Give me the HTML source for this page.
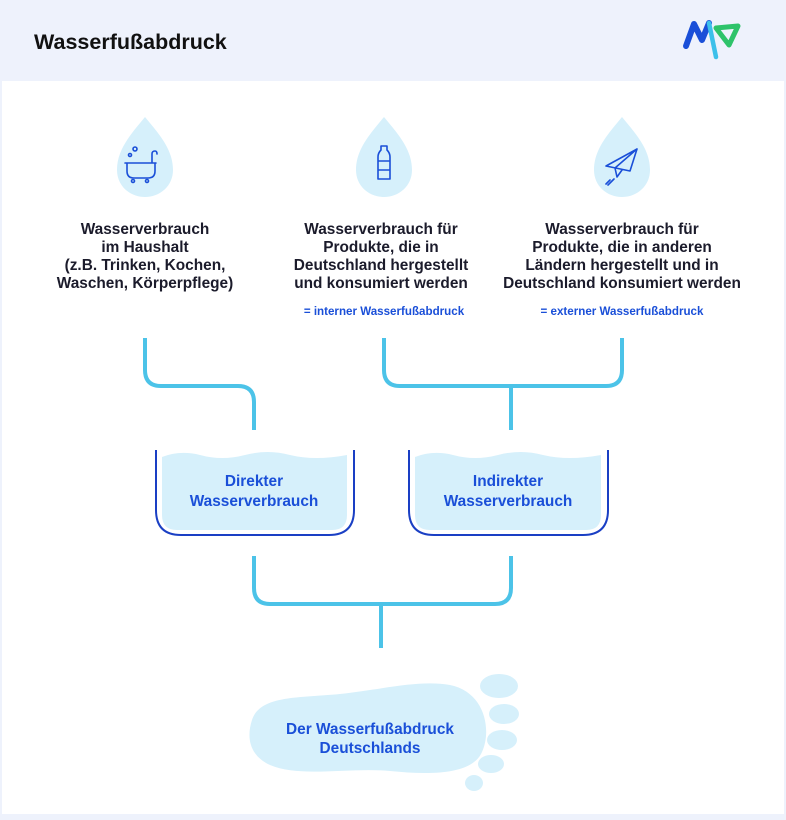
<!DOCTYPE html>
<html><head><meta charset="utf-8"><style>
body{margin:0;background:#fff}
svg{display:block;font-family:"Liberation Sans",sans-serif}
</style></head><body>
<svg width="786" height="820" viewBox="0 0 786 820" xmlns="http://www.w3.org/2000/svg">
<rect width="786" height="820" fill="#fff"/>
<rect width="786" height="81" fill="#eef2fc"/>
<rect x="0" y="814" width="786" height="6" fill="#eef2fc"/>
<rect x="0" y="81" width="2" height="740" fill="#eef2fc"/>
<rect x="784" y="81" width="2" height="740" fill="#eef2fc"/>
<text x="34" y="49" font-size="21.5" font-weight="bold" fill="#111">Wasserfußabdruck</text>
<path d="M686 46 L694 24 L702 40 L709 23" fill="none" stroke="#1a4fd8" stroke-width="6" stroke-linecap="round" stroke-linejoin="round"/>
<path d="M709 23 L716 57" fill="none" stroke="#3cc0ea" stroke-width="4.5" stroke-linecap="round"/>
<path d="M716 28 L738 26 L729 45 Z" fill="none" stroke="#2ec36a" stroke-width="5" stroke-linecap="round" stroke-linejoin="round"/>
<!-- drops -->
<g fill="#d6f0fb">
<path d="M145 117 C160 135 173 150 173 170 C173 186 160 197 145 197 C130 197 117 186 117 170 C117 150 130 135 145 117Z"/>
<path d="M384 117 C399 135 412 150 412 170 C412 186 399 197 384 197 C369 197 356 186 356 170 C356 150 369 135 384 117Z"/>
<path d="M622 117 C637 135 650 150 650 170 C650 186 637 197 622 197 C607 197 594 186 594 170 C594 150 607 135 622 117Z"/>
</g>
<g fill="none" stroke="#1a4fd8" stroke-width="1.6" stroke-linecap="round" stroke-linejoin="round">
<path d="M125 163 H156 M127 163 V171 Q127 178 134 178 H148 Q155 178 155 171 V163 M152 163 V154 Q152 151 155 151 Q157 151 157 154"/>
<circle cx="133" cy="181" r="1.5"/><circle cx="147" cy="181" r="1.5"/>
<circle cx="135" cy="149" r="2"/><circle cx="130" cy="155" r="1.5"/>
<path d="M381 146 H387 V150 Q390 153 390 157 V179 H378 V157 Q378 153 381 150 Z M378 161 H390 M378 170 H390"/>
<path d="M606 166 L637 149 L630 171 Z M637 149 L615 168 L617 177 L622 170 M610 180 L606 184 M614 179 L608 185"/>
</g>
<!-- text -->
<g font-size="15.4" font-weight="bold" fill="#1b1b2b" text-anchor="middle">
<text x="145" y="234">Wasserverbrauch</text>
<text x="145" y="252">im Haushalt</text>
<text x="145" y="270">(z.B. Trinken, Kochen,</text>
<text x="145" y="288">Waschen, Körperpflege)</text>
<text x="381" y="234">Wasserverbrauch für</text>
<text x="381" y="252">Produkte, die in</text>
<text x="381" y="270">Deutschland hergestellt</text>
<text x="381" y="288">und konsumiert werden</text>
<text x="622" y="234">Wasserverbrauch für</text>
<text x="622" y="252">Produkte, die in anderen</text>
<text x="622" y="270">Ländern hergestellt und in</text>
<text x="622" y="288">Deutschland konsumiert werden</text>
</g>
<g font-size="11.6" font-weight="bold" fill="#1a4fd8" text-anchor="middle">
<text x="384" y="315">= interner Wasserfußabdruck</text>
<text x="622" y="315">= externer Wasserfußabdruck</text>
</g>
<!-- connectors -->
<g fill="none" stroke="#4cc3e8" stroke-width="4">
<path d="M145 338 V370 Q145 386 161 386 H238 Q254 386 254 402 V430"/>
<path d="M384 338 V370 Q384 386 400 386 H606 Q622 386 622 370 V338"/>
<path d="M511 386 V430"/>
<path d="M254 556 V588 Q254 604 270 604 H495 Q511 604 511 588 V556"/>
<path d="M381 604 V648"/>
</g>
<!-- bowls -->
<g>
<path d="M162 457 Q180 450 200 455 Q222 461 245 455 Q268 449 290 455 Q315 461 347 455 V515 Q347 530 332 530 H177 Q162 530 162 515Z" fill="#d6f0fb"/>
<path d="M156 450 V510 Q156 535 181 535 H329 Q354 535 354 510 V450" fill="none" stroke="#1a3fc4" stroke-width="2"/>
<path d="M415 457 Q433 450 453 455 Q475 461 498 455 Q521 449 543 455 Q568 461 601 455 V515 Q601 530 586 530 H430 Q415 530 415 515Z" fill="#d6f0fb"/>
<path d="M409 450 V510 Q409 535 434 535 H583 Q608 535 608 510 V450" fill="none" stroke="#1a3fc4" stroke-width="2"/>
</g>
<g font-size="15.4" font-weight="bold" fill="#1a4fd8" text-anchor="middle">
<text x="254" y="486">Direkter</text>
<text x="254" y="506">Wasserverbrauch</text>
<text x="508" y="486">Indirekter</text>
<text x="508" y="506">Wasserverbrauch</text>
</g>
<!-- foot -->
<g fill="#d6f0fb">
<path d="M252 720 C260 695 300 698 340 694 C390 688 420 680 450 685 C485 692 492 730 482 752 C472 775 430 775 390 771 C350 767 300 778 270 765 C250 756 246 738 252 720Z"/>
<ellipse cx="499" cy="686" rx="19" ry="12"/>
<ellipse cx="504" cy="714" rx="15" ry="10"/>
<ellipse cx="502" cy="740" rx="15" ry="10"/>
<ellipse cx="491" cy="764" rx="13" ry="9"/>
<ellipse cx="474" cy="783" rx="9" ry="8"/>
</g>
<g font-size="15.4" font-weight="bold" fill="#1a4fd8" text-anchor="middle">
<text x="370" y="734">Der Wasserfußabdruck</text>
<text x="370" y="753">Deutschlands</text>
</g>
</svg>
</body></html>
